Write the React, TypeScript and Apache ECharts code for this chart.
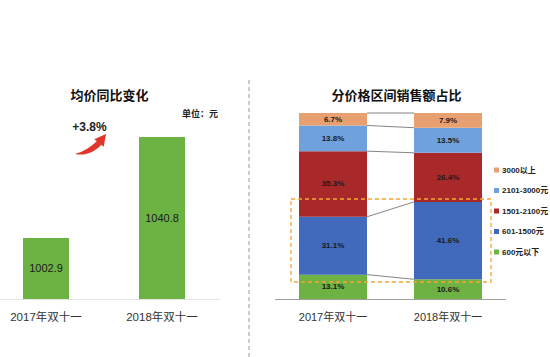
import React, { useEffect, useRef } from "react";
import * as echarts from "echarts";

const categories = ["2017年双十一", "2018年双十一"];
const avgPrice = [1002.9, 1040.8];
const growthText = "+3.8%";
const unitText = "单位：元";

const seg600Below = [13.1, 10.6];
const seg601to1500 = [31.1, 41.6];
const seg1501to2100 = [35.3, 26.4];
const seg2101to3000 = [13.8, 13.5];
const seg3000Above = [6.7, 7.9];

const segNames = ["600元以下", "601-1500元", "1501-2100元", "2101-3000元", "3000以上"];
const segColors = ["#6FB244", "#4169BC", "#A9282A", "#6FA1DC", "#E8A070"];

const FONT = '"Liberation Sans", "Noto Sans CJK SC", sans-serif';

const arrowPath =
  "M0,21 C8,19 16,14 21.8,8.3 L19.3,6.3 L31,1 L28.7,13.7 L26.2,11.7 C20,19 10,23 0,21 Z";

export default function App() {
  const ref = useRef<HTMLDivElement>(null);
  useEffect(() => {
    if (!ref.current) return;
    try {
      echarts.graphic.registerShape("logo", (echarts.graphic as any).extendPath(arrowPath, {}));
    } catch (e) {}
    const chart = echarts.init(ref.current, undefined, { renderer: "svg" });
    const segs = [seg600Below, seg601to1500, seg1501to2100, seg2101to3000, seg3000Above];
    const bounds: number[][] = [];
    const c = [0, 0];
    segs.forEach((s) => {
      c[0] += s[0];
      c[1] += s[1];
      bounds.push([0, +c[0].toFixed(1), +c[1].toFixed(1)]);
    });
    const stackLabel = {
      show: true,
      position: "inside",
      formatter: (p: any) => p.value.toFixed(1) + "%",
      fontSize: 8,
      fontWeight: "bold",
      color: "#1a1a1a",
      fontFamily: FONT,
    };
    chart.setOption({
      animation: false,
      title: [
        {
          text: "均价同比变化",
          left: 104.5,
          top: 84,
          textAlign: "center",
          textStyle: { fontSize: 13, fontWeight: "bold", color: "#111", fontFamily: FONT },
        },
        {
          text: "分价格区间销售额占比",
          left: 391.5,
          top: 84,
          textAlign: "center",
          textStyle: { fontSize: 13, fontWeight: "bold", color: "#111", fontFamily: FONT },
        },
      ],
      legend: {
        orient: "vertical",
        left: 489,
        top: 160,
        itemWidth: 5,
        itemHeight: 5,
        itemGap: 10.5,
        icon: "rect",
        data: [...segNames].reverse(),
        textStyle: { fontSize: 8, fontWeight: "bold", color: "#222", lineHeight: 10, fontFamily: FONT, padding: [0, 0, 0, -2] },
      },
      grid: [
        { left: -12, top: 112.5, width: 232, height: 186.5, outerBoundsMode: "none", containLabel: false },
        { left: 275.5, top: 113, width: 230, height: 186, outerBoundsMode: "none", containLabel: false },
      ],
      xAxis: [
        {
          type: "category",
          gridIndex: 0,
          data: categories,
          axisLine: { lineStyle: { color: "#e3e3e3", width: 1 } },
          axisTick: { show: false },
          axisLabel: { fontSize: 11.5, color: "#333", margin: 12, fontFamily: FONT },
        },
        {
          type: "category",
          gridIndex: 1,
          data: categories,
          axisLine: { lineStyle: { color: "#a0a0a0", width: 1 } },
          axisTick: { show: false },
          axisLabel: { fontSize: 11, color: "#333", margin: 12, fontFamily: FONT },
        },
      ],
      yAxis: [
        { type: "value", gridIndex: 0, min: 980, max: 1050, show: false },
        { type: "value", gridIndex: 1, min: 0, max: 100, show: false },
      ],
      series: [
        {
          type: "bar",
          xAxisIndex: 0,
          yAxisIndex: 0,
          data: avgPrice,
          barWidth: 46,
          itemStyle: { color: "#6DB344" },
          label: {
            show: true,
            position: "inside",
            fontSize: 11,
            color: "#1a1a1a",
            fontFamily: FONT,
            formatter: (p: any) => p.value.toFixed(1),
          },
        },
        ...segs.map((s, i) => ({
          type: "bar",
          name: segNames[i],
          xAxisIndex: 1,
          yAxisIndex: 1,
          stack: "share",
          data: s,
          barWidth: 68,
          itemStyle: { color: segColors[i] },
          label: stackLabel,
        })),
        {
          type: "custom",
          xAxisIndex: 1,
          yAxisIndex: 1,
          data: bounds,
          encode: { x: 0, y: 1 },
          clip: false,
          silent: true,
          z: 5,
          renderItem: (params: any, api: any) => {
            const p1 = api.coord([0, api.value(1)]);
            const p2 = api.coord([1, api.value(2)]);
            return {
              type: "line",
              shape: { x1: p1[0] + 34, y1: p1[1], x2: p2[0] - 34, y2: p2[1] },
              style: { stroke: "#666", lineWidth: 0.8 },
            };
          },
        },
      ],
      graphic: [
        {
          type: "line",
          shape: { x1: 249, y1: 80, x2: 249, y2: 357 },
          style: { stroke: "#999", lineWidth: 1, lineDash: [4, 3] },
        },
        {
          type: "text",
          x: 182,
          y: 114,
          style: {
            text: unitText,
            fontSize: 9,
            fontWeight: "bold",
            fill: "#222",
            verticalAlign: "middle",
            fontFamily: FONT,
          },
        },
        {
          type: "text",
          x: 89.5,
          y: 127,
          style: {
            text: growthText,
            fontSize: 12,
            fontWeight: "bold",
            fill: "#222",
            align: "center",
            verticalAlign: "middle",
            fontFamily: FONT,
          },
        },
        {
          type: "logo",
          x: 75,
          y: 133,
          scaleX: 1,
          scaleY: 1,
          style: { fill: "#E0352B" },
        },
        {
          type: "rect",
          shape: { x: 291, y: 199, width: 200, height: 83 },
          style: { fill: "none", stroke: "#F2A830", lineWidth: 1.3, lineDash: [4, 3] },
          z: 10,
        },
      ],
    });
    return () => chart.dispose();
  }, []);
  return (
    <div
      ref={ref}
      style={{ position: "fixed", left: 0, top: 0, width: 550, height: 357, background: "#fff" }}
    />
  );
}
